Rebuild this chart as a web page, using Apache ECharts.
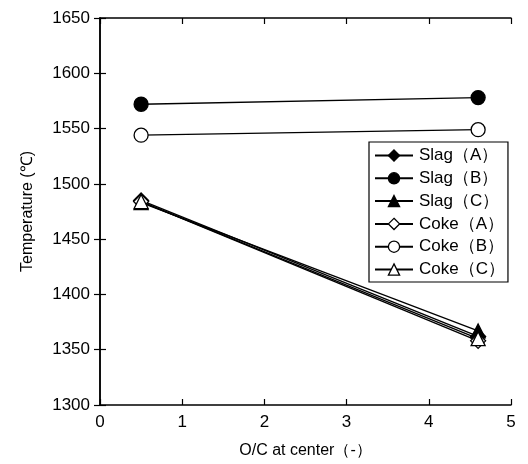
<!DOCTYPE html>
<html><head><meta charset="utf-8">
<script src="https://cdn.jsdelivr.net/npm/echarts@6/dist/echarts.min.js"></script>
<style>html,body{margin:0;padding:0;background:#fff}#c{width:528px;height:464px}</style>
</head><body><div id="c"></div>
<script>
const xValues = [0.5, 4.6];
const seriesNames = ['Slag（A）','Slag（B）','Slag（C）','Coke（A）','Coke（B）','Coke（C）'];
const slagA = [1485, 1362];
const slagB = [1572, 1578];
const slagC = [1483, 1367];
const cokeA = [1484, 1358];
const cokeB = [1544, 1549];
const cokeC = [1484, 1360];
const symbols = ['diamond','circle','triangle','diamond','circle','triangle'];
const allData = [slagA, slagB, slagC, cokeA, cokeB, cokeC];
const font = 'Liberation Sans, Arial, sans-serif';
const chart = echarts.init(document.getElementById('c'));
const axisCommon = {
  axisLine:{show:true,lineStyle:{color:'#000',width:1.5}},
  axisTick:{show:true,inside:true,length:6,lineStyle:{color:'#000',width:1.2}},
  splitLine:{show:false}
};
const fills = seriesNames.map((n,i)=> i<3 ? '#000' : '#fff');
chart.setOption({
  animation:false,
  backgroundColor:'#fff',
  grid:{left:100,right:17,top:18,bottom:57},
  legend:{
    orient:'vertical', left:369, top:142,
    data:seriesNames.map((n,i)=>({name:n, itemStyle:{color:fills[i],borderColor:'#000',borderWidth:1.3}})),
    itemWidth:38, itemHeight:14, itemGap:5.8,
    borderColor:'#000', borderWidth:1.2, padding:[5,3,4,5],
    backgroundColor:'#fff',
    textStyle:{fontFamily:font,fontSize:17,color:'#000',padding:[0,0,0,1]}
  },
  xAxis:[
    Object.assign({type:'value',min:0,max:5,interval:1,position:'bottom',
      axisLabel:{fontFamily:font,fontSize:17,color:'#000',margin:9},
      name:'O/C at center（-）',nameLocation:'middle',nameGap:38,
      nameTextStyle:{fontFamily:font,fontSize:16,color:'#000'}},axisCommon),
    Object.assign({type:'value',min:0,max:5,interval:1,position:'top',axisLabel:{show:false}},axisCommon)
  ],
  yAxis:[
    Object.assign({type:'value',min:1300,max:1650,interval:50,position:'left',
      axisLabel:{fontFamily:font,fontSize:17,color:'#000',margin:10,formatter:v=>String(v)},
      name:'Temperature (℃)',nameLocation:'middle',nameGap:64,
      nameTextStyle:{fontFamily:font,fontSize:16,color:'#000'}},axisCommon),
    Object.assign({type:'value',min:1300,max:1650,interval:50,position:'right',axisLabel:{show:false}},axisCommon)
  ],
  series: seriesNames.map((n,i)=>({
    name:n, type:'line',
    data: xValues.map((x,j)=>[x, allData[i][j]]),
    symbol: symbols[i], symbolSize: symbols[i]==='diamond' ? 15 : 14,
    lineStyle:{color:'#000',width:1.3},
    itemStyle:{color: fills[i], borderColor:'#000', borderWidth:1.3}
  }))
});
</script></body></html>
